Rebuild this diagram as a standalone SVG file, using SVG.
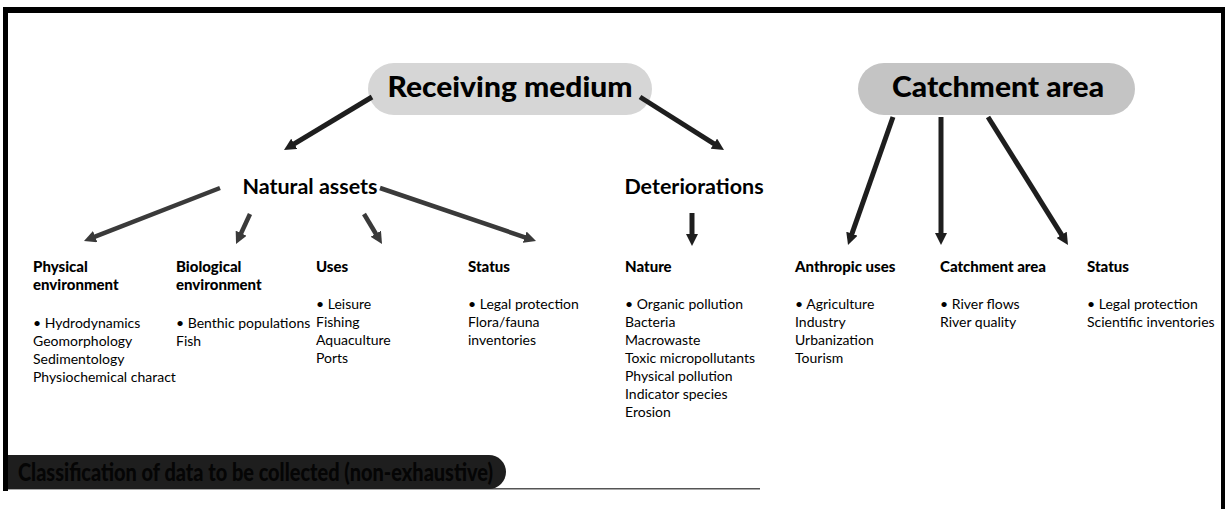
<svg xmlns="http://www.w3.org/2000/svg" width="1227" height="509" viewBox="0 0 1227 509">
<style>
.bg{fill:#ffffff}
.frame{fill:#000000}
.pill1{fill:#d6d6d6}
.pill2{fill:#c4c4c4}
.big{font-family:Lato,"Liberation Sans",sans-serif;font-weight:900;font-size:28px;fill:#000}
.mid{font-family:Lato,"Liberation Sans",sans-serif;font-weight:700;font-size:21.5px;fill:#000}
.hd{font-family:Lato,"Liberation Sans",sans-serif;font-weight:900;font-size:15px;fill:#000}
.tx{font-family:Lato,"Liberation Sans",sans-serif;font-size:14px;fill:#000}
.arr{stroke:#1e1e1e;stroke-width:5;fill:none;marker-end:url(#ah)}
.arr2{stroke:#3a3a3a;stroke-width:4.5;fill:none;marker-end:url(#ah2)}
.banner{fill:#1e1e1e}
.btx{font-family:Lato,"Liberation Sans",sans-serif;font-weight:900;font-size:24px;fill:#050505}
</style>
<defs>
<marker id="ah" viewBox="0 0 12 12" refX="5" refY="6" markerWidth="12" markerHeight="12" markerUnits="userSpaceOnUse" orient="auto">
<path d="M0,0 L12,6 L0,12 z" fill="#1e1e1e"/>
</marker>
<marker id="ah2" viewBox="0 0 12 12" refX="5" refY="6" markerWidth="12" markerHeight="12" markerUnits="userSpaceOnUse" orient="auto">
<path d="M0,0 L12,6 L0,12 z" fill="#3a3a3a"/>
</marker>
</defs>
<rect class="bg" x="0" y="0" width="1227" height="509"/>
<g id="frame">
<rect class="frame" x="3" y="7" width="1222" height="6"/>
<rect class="frame" x="3" y="7" width="5" height="484"/>
<rect class="frame" x="1221" y="7" width="4" height="502"/>
<rect x="8" y="488" width="752" height="1.5" fill="#555"/>
</g>
<g id="receiving-medium">
<rect class="pill1" x="368" y="63" width="284" height="52" rx="26"/>
<text class="big" x="510" y="97" text-anchor="middle" textLength="245" lengthAdjust="spacingAndGlyphs">Receiving medium</text>
</g>
<g id="catchment-area">
<rect class="pill2" x="858" y="63" width="277" height="52" rx="26"/>
<text class="big" x="998" y="97" text-anchor="middle" textLength="212" lengthAdjust="spacingAndGlyphs">Catchment area</text>
</g>
<g id="natural-assets">
<text class="mid" x="310" y="194" text-anchor="middle">Natural assets</text>
</g>
<g id="deteriorations">
<text class="mid" x="694" y="194" text-anchor="middle">Deteriorations</text>
</g>
<g id="physical">
<text class="hd" x="33" y="272">Physical</text>
<text class="hd" x="33" y="290">environment</text>
<text class="tx" x="33" y="328">• Hydrodynamics</text>
<text class="tx" x="33" y="346">Geomorphology</text>
<text class="tx" x="33" y="364">Sedimentology</text>
<text class="tx" x="33" y="382">Physiochemical charact</text>
</g>
<g id="biological">
<text class="hd" x="176" y="272">Biological</text>
<text class="hd" x="176" y="290">environment</text>
<text class="tx" x="176" y="328">• Benthic populations</text>
<text class="tx" x="176" y="346">Fish</text>
</g>
<g id="uses">
<text class="hd" x="316" y="272">Uses</text>
<text class="tx" x="316" y="309">• Leisure</text>
<text class="tx" x="316" y="327">Fishing</text>
<text class="tx" x="316" y="345">Aquaculture</text>
<text class="tx" x="316" y="363">Ports</text>
</g>
<g id="status-1">
<text class="hd" x="468" y="272">Status</text>
<text class="tx" x="468" y="309">• Legal protection</text>
<text class="tx" x="468" y="327">Flora/fauna</text>
<text class="tx" x="468" y="345">inventories</text>
</g>
<g id="nature">
<text class="hd" x="625" y="272">Nature</text>
<text class="tx" x="625" y="309">• Organic pollution</text>
<text class="tx" x="625" y="327">Bacteria</text>
<text class="tx" x="625" y="345">Macrowaste</text>
<text class="tx" x="625" y="363">Toxic micropollutants</text>
<text class="tx" x="625" y="381">Physical pollution</text>
<text class="tx" x="625" y="399">Indicator species</text>
<text class="tx" x="625" y="417">Erosion</text>
</g>
<g id="anthropic-uses">
<text class="hd" x="795" y="272">Anthropic uses</text>
<text class="tx" x="795" y="309">• Agriculture</text>
<text class="tx" x="795" y="327">Industry</text>
<text class="tx" x="795" y="345">Urbanization</text>
<text class="tx" x="795" y="363">Tourism</text>
</g>
<g id="catchment-sub">
<text class="hd" x="940" y="272">Catchment area</text>
<text class="tx" x="940" y="309">• River flows</text>
<text class="tx" x="940" y="327">River quality</text>
</g>
<g id="status-2">
<text class="hd" x="1087" y="272">Status</text>
<text class="tx" x="1087" y="309">• Legal protection</text>
<text class="tx" x="1087" y="327">Scientific inventories</text>
</g>
<g id="banner">
<path class="banner" d="M8,455 H489 A17,17 0 0 1 489,489 H8 Z"/>
<text class="btx" x="18" y="481" textLength="475" lengthAdjust="spacingAndGlyphs">Classification of data to be collected (non-exhaustive)</text>
</g>
<g id="connectors">
<line class="arr" x1="372" y1="97" x2="290" y2="146.4"/>
<line class="arr" x1="640" y1="97" x2="718.1" y2="146.3"/>
<line class="arr2" x1="220" y1="188" x2="90.5" y2="238.4"/>
<line class="arr2" x1="250" y1="214" x2="239" y2="237.7"/>
<line class="arr2" x1="364" y1="214" x2="378.4" y2="238"/>
<line class="arr2" x1="380" y1="188" x2="529.4" y2="238.8"/>
<line class="arr" x1="692" y1="213" x2="692" y2="239"/>
<line class="arr" x1="893" y1="117" x2="850.3" y2="238.4"/>
<line class="arr" x1="941" y1="117" x2="941" y2="238"/>
<line class="arr" x1="988" y1="117" x2="1064.3" y2="239.1"/>
</g>
</svg>
